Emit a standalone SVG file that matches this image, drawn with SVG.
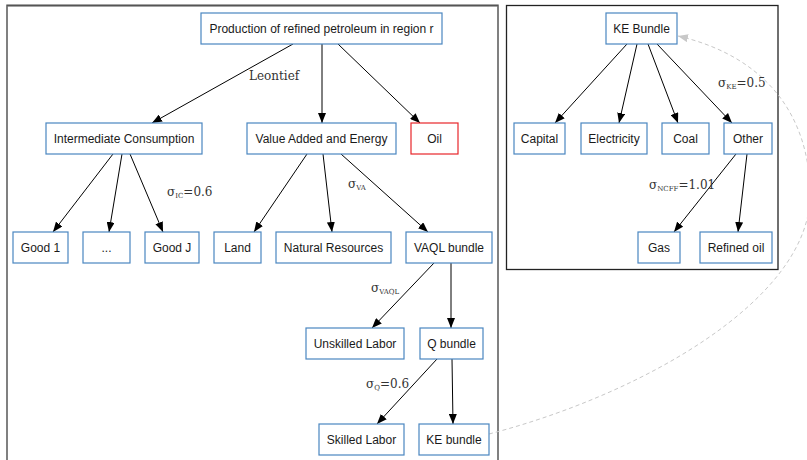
<svg xmlns="http://www.w3.org/2000/svg" width="807" height="460" viewBox="0 0 807 460">
  <defs>
    <marker id="arr" viewBox="0 0 10 8" refX="10" refY="4" markerWidth="10" markerHeight="8" markerUnits="userSpaceOnUse" orient="auto">
      <path d="M0,0 L10,4 L0,8 Z" fill="#000"/>
    </marker>
    <marker id="arr-grey" viewBox="0 0 10 8" refX="10" refY="4" markerWidth="10" markerHeight="8" markerUnits="userSpaceOnUse" orient="auto">
      <path d="M0,0 L10,4 L0,8 Z" fill="#c8c8c8"/>
    </marker>
  </defs>
  <style>
    .node rect { fill: #fff; stroke: #4a86c0; stroke-width: 1.2; }
    .node.red rect { stroke: #e8262a; }
    .node text { font-family: "Liberation Sans", Arial, sans-serif; font-size: 12px; fill: #1a1a1a; text-anchor: middle; }
    .edge { stroke: #000; stroke-width: 1; fill: none; marker-end: url(#arr); }
    .link { stroke: #c8c8c8; stroke-width: 1; fill: none; stroke-dasharray: 4 3; marker-end: url(#arr-grey); }
    .lbl { font-family: "DejaVu Serif", "Liberation Serif", serif; font-size: 12px; fill: #333; }
    .sub { font-size: 7px; }
  </style>
  <rect width="807" height="460" fill="#fff"/>

  <!-- cluster frames -->
  <g id="frames">
    <path d="M7,470 L7,5.5 L498,5.5 L498,470" fill="none" stroke="#808080" stroke-width="2"/>
    <line x1="7" y1="5.5" x2="498" y2="5.5" stroke="#555" stroke-width="1.5"/>
    <rect x="506.5" y="5.5" width="271.5" height="264" fill="none" stroke="#222" stroke-width="1.3"/>
  </g>

  <!-- connectors -->
  <g id="connectors">
    <line class="edge" x1="293" y1="44" x2="152" y2="123"/>
    <line class="edge" x1="322" y1="44" x2="322" y2="123"/>
    <line class="edge" x1="338" y1="44" x2="420" y2="123"/>

    <line class="edge" x1="113" y1="154" x2="53" y2="232"/>
    <line class="edge" x1="122" y1="154" x2="109" y2="232"/>
    <line class="edge" x1="130" y1="154" x2="163" y2="232"/>

    <line class="edge" x1="307" y1="154" x2="254" y2="232"/>
    <line class="edge" x1="323" y1="154" x2="332" y2="232"/>
    <line class="edge" x1="341" y1="154" x2="428" y2="232"/>

    <line class="edge" x1="434" y1="263" x2="372" y2="328"/>
    <line class="edge" x1="451" y1="263" x2="451" y2="328"/>

    <line class="edge" x1="437" y1="359" x2="377" y2="424"/>
    <line class="edge" x1="452" y1="359" x2="453" y2="424"/>

    <line class="edge" x1="627" y1="44" x2="555" y2="123"/>
    <line class="edge" x1="637" y1="44" x2="619" y2="123"/>
    <line class="edge" x1="648" y1="44" x2="678" y2="123"/>
    <line class="edge" x1="657" y1="44" x2="732" y2="123"/>

    <line class="edge" x1="736" y1="154" x2="674" y2="232"/>
    <line class="edge" x1="747" y1="154" x2="738" y2="232"/>

    <path class="link" d="M489,434 C640,395 810,300 810,195 C810,110 760,55 678,36"/>
  </g>

  <!-- edge labels -->
  <g id="edge-labels">
    <text class="lbl" x="249" y="80">Leontief</text>
    <text class="lbl" x="167" y="196">σ<tspan class="sub" dy="2">IC</tspan><tspan dy="-2">=0.6</tspan></text>
    <text class="lbl" x="348" y="188">σ<tspan class="sub" dy="2">VA</tspan></text>
    <text class="lbl" x="371" y="292">σ<tspan class="sub" dy="2">VAQL</tspan></text>
    <text class="lbl" x="366" y="388">σ<tspan class="sub" dy="2">Q</tspan><tspan dy="-2">=0.6</tspan></text>
    <text class="lbl" x="718" y="87">σ<tspan class="sub" dy="2">KE</tspan><tspan dy="-2">=0.5</tspan></text>
    <text class="lbl" x="649" y="189">σ<tspan class="sub" dy="2">NCFF</tspan><tspan dy="-2">=1.01</tspan></text>
  </g>

  <!-- nodes -->
  <g id="production" class="node"><rect x="201" y="13" width="241" height="31"/><text x="321.5" y="32.5">Production of refined petroleum in region r</text></g>
  <g id="intermediate" class="node"><rect x="46" y="123" width="156" height="31"/><text x="124" y="142.5">Intermediate Consumption</text></g>
  <g id="value-added" class="node"><rect x="247" y="123" width="149" height="31"/><text x="321.5" y="142.5">Value Added and Energy</text></g>
  <g id="oil" class="node red"><rect x="411" y="123" width="47" height="31"/><text x="434.5" y="142.5">Oil</text></g>

  <g id="good1" class="node"><rect x="13" y="232" width="55" height="31"/><text x="40.5" y="251.5">Good 1</text></g>
  <g id="goods-ellipsis" class="node"><rect x="83" y="232" width="47" height="31"/><text x="106.5" y="251.5">...</text></g>
  <g id="goodJ" class="node"><rect x="145" y="232" width="54" height="31"/><text x="172" y="251.5">Good J</text></g>
  <g id="land" class="node"><rect x="214" y="232" width="47" height="31"/><text x="237.5" y="251.5">Land</text></g>
  <g id="natural-resources" class="node"><rect x="276" y="232" width="115" height="31"/><text x="333.5" y="251.5">Natural Resources</text></g>
  <g id="vaql" class="node"><rect x="406" y="232" width="86" height="31"/><text x="449" y="251.5">VAQL bundle</text></g>

  <g id="unskilled" class="node"><rect x="306" y="328" width="98" height="31"/><text x="355" y="347.5">Unskilled Labor</text></g>
  <g id="q-bundle" class="node"><rect x="420" y="328" width="63" height="31"/><text x="451.5" y="347.5">Q bundle</text></g>
  <g id="skilled" class="node"><rect x="319" y="424" width="85" height="31"/><text x="361.5" y="443.5">Skilled Labor</text></g>
  <g id="ke-bundle-ref" class="node"><rect x="419" y="424" width="70" height="31"/><text x="454" y="443.5">KE bundle</text></g>

  <g id="ke-bundle" class="node"><rect x="606" y="13" width="71" height="31"/><text x="641.5" y="32.5">KE Bundle</text></g>
  <g id="capital" class="node"><rect x="514" y="123" width="51" height="31"/><text x="539.5" y="142.5">Capital</text></g>
  <g id="electricity" class="node"><rect x="581" y="123" width="66" height="31"/><text x="614" y="142.5">Electricity</text></g>
  <g id="coal" class="node"><rect x="662" y="123" width="47" height="31"/><text x="685.5" y="142.5">Coal</text></g>
  <g id="other" class="node"><rect x="724" y="123" width="48" height="31"/><text x="748" y="142.5">Other</text></g>
  <g id="gas" class="node"><rect x="638" y="232" width="42" height="31"/><text x="659" y="251.5">Gas</text></g>
  <g id="refined-oil" class="node"><rect x="700" y="232" width="72" height="31"/><text x="736" y="251.5">Refined oil</text></g>
</svg>
